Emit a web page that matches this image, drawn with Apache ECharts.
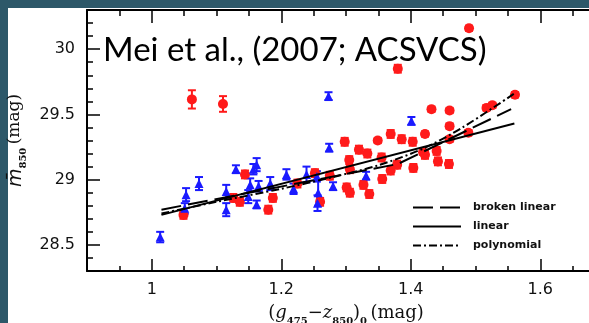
<!DOCTYPE html>
<html>
<head>
<meta charset="utf-8">
<script src="https://cdn.jsdelivr.net/npm/echarts@6/dist/echarts.min.js"></script>
<style>
  html, body { margin: 0; padding: 0; background: #2d5869; }
  #chart { width: 589px; height: 323px; }
</style>
</head>
<body>
<div id="chart"></div>
<script>
// red galaxies (x colour, y magnitude, error)
var redX = [1.062, 1.110, 1.490, 1.380, 1.561, 1.517, 1.526, 1.432, 1.460, 1.460, 1.422, 1.489, 1.460, 1.440, 1.419,
  1.298, 1.349, 1.369, 1.386, 1.403, 1.320, 1.333, 1.305, 1.355, 1.379, 1.369, 1.404, 1.422, 1.306, 1.356,
  1.327, 1.301, 1.306, 1.336, 1.275, 1.260, 1.049, 1.144, 1.126, 1.136, 1.187, 1.180, 1.442, 1.459, 1.252, 1.225];
var redY = [29.615, 29.58, 30.16, 29.85, 29.65, 29.55, 29.57, 29.54, 29.53, 29.41, 29.35, 29.36, 29.31, 29.22, 29.21,
  29.29, 29.30, 29.35, 29.31, 29.29, 29.23, 29.20, 29.15, 29.17, 29.115, 29.07, 29.09, 29.19, 29.08, 29.005,
  28.96, 28.94, 28.90, 28.89, 29.03, 28.83, 28.73, 29.04, 28.86, 28.83, 28.86, 28.77, 29.14, 29.12, 29.05, 28.97];
var redErr = [0.07, 0.06, 0.02, 0.03, 0.02, 0.02, 0.02, 0.02, 0.02, 0.02, 0.02, 0.02, 0.02, 0.03, 0.02,
  0.03, 0.02, 0.03, 0.03, 0.03, 0.03, 0.03, 0.03, 0.03, 0.03, 0.03, 0.03, 0.03, 0.03, 0.03,
  0.03, 0.03, 0.03, 0.03, 0.03, 0.03, 0.03, 0.03, 0.03, 0.03, 0.03, 0.03, 0.03, 0.03, 0.03, 0.03];

// blue galaxies
var blueX = [1.013, 1.053, 1.051, 1.073, 1.115, 1.115, 1.130, 1.162, 1.157, 1.152, 1.165, 1.149, 1.162, 1.183,
  1.208, 1.273, 1.274, 1.401, 1.331, 1.239, 1.255, 1.219, 1.257, 1.256, 1.280];
var blueY = [28.56, 28.885, 28.78, 28.97, 28.91, 28.77, 29.08, 29.115, 29.08, 28.96, 28.95, 28.87, 28.81, 28.97,
  29.04, 29.64, 29.245, 29.45, 29.03, 29.04, 29.025, 28.93, 28.90, 28.82, 28.95];
var blueErr = [0.04, 0.05, 0.04, 0.05, 0.05, 0.05, 0.03, 0.05, 0.04, 0.05, 0.04, 0.05, 0.03, 0.05,
  0.04, 0.03, 0.03, 0.03, 0.03, 0.06, 0.04, 0.04, 0.10, 0.06, 0.03];

// fits
var brokenFit = [[1.015, 28.77], [1.38, 29.12], [1.555, 29.54]];
var linearFit = [[1.015, 28.73], [1.56, 29.43]];
var polyFit = [[1.015, 28.74], [1.1, 28.83], [1.2, 28.93], [1.28, 29.02], [1.35, 29.11], [1.42, 29.24], [1.48, 29.40], [1.56, 29.66]];

var xMajor = [1, 1.2, 1.4, 1.6];
var yMajor = [28.5, 29, 29.5, 30];

function zip(xs, ys, es) {
  return xs.map(function (x, i) { return [x, ys[i], es[i]]; });
}

function errorBars(api) {
  var x = api.value(0), y = api.value(1), e = api.value(2);
  var top = api.coord([x, y + e]);
  var bot = api.coord([x, y - e]);
  var w = 4;
  var style = { stroke: api.visual('color'), lineWidth: 2 };
  return {
    type: 'group',
    children: [
      { type: 'line', shape: { x1: top[0], y1: top[1], x2: bot[0], y2: bot[1] }, style: style },
      { type: 'line', shape: { x1: top[0] - w, y1: top[1], x2: top[0] + w, y2: top[1] }, style: style },
      { type: 'line', shape: { x1: bot[0] - w, y1: bot[1], x2: bot[0] + w, y2: bot[1] }, style: style }
    ]
  };
}

var chart = echarts.init(document.getElementById('chart'));
var black = '#000';
var axisBase = { type: 'value', min: 0.9, max: 1.7, splitLine: { show: false } };
var yBase = { type: 'value', min: 28.3, max: 30.3, splitLine: { show: false } };

var serif = 'DejaVu Serif';
var mainTxt = { fontFamily: serif, fontSize: 18, color: '#111', verticalAlign: 'top', lineHeight: 20 };
var subTxt = { fontFamily: serif, fontWeight: 'bold', fontSize: 10, color: '#111', verticalAlign: 'top', lineHeight: 10, padding: [12, 0, 0, 0] };

chart.setOption({
  backgroundColor: '#2d5869',
  animation: false,
  grid: { left: 87, top: 10, width: 518, height: 261, outerBoundsMode: 'none', containLabel: false },
  graphic: [
    { type: 'rect', z: -10, shape: { x: 8, y: 8, width: 600, height: 330 }, style: { fill: '#fff' } },
    { type: 'text', z: 100, x: 103, y: 50, style: { text: 'Mei et al., (2007; ACSVCS)', font: '33px Lato', fill: '#000', verticalAlign: 'middle' } }
  ],
  legend: {
    orient: 'vertical', left: 412, top: 202, padding: 0, itemWidth: 48, itemHeight: 12, itemGap: 8,
    data: ['broken linear', 'linear', 'polynomial'],
    itemStyle: { opacity: 0 },
    textStyle: { fontFamily: 'DejaVu Sans', fontWeight: 'bold', fontSize: 11, color: '#111', padding: [0, 0, 0, 7] }
  },
  xAxis: [
    Object.assign({}, axisBase, {
      position: 'bottom', interval: 0.05,
      axisLine: { lineStyle: { color: black, width: 2 } },
      axisTick: { inside: true, length: 5, lineStyle: { color: black, width: 1.5 } },
      axisLabel: { customValues: xMajor, margin: 11, color: '#111', fontFamily: 'DejaVu Sans', fontSize: 16,
        formatter: function (v) { return String(Math.round(v * 10) / 10); } },
      name: '{t|(}{g|g}{s|475}{t|\u2212}{g|z}{s|850}{t|)}{s|0} {t|(mag)}',
      nameLocation: 'middle', nameGap: 33,
      nameTextStyle: {
        rich: {
          t: mainTxt,
          g: Object.assign({}, mainTxt, { fontStyle: 'italic' }),
          s: subTxt
        }
      }
    }),
    Object.assign({}, axisBase, {
      position: 'bottom', axisLine: { show: false }, axisLabel: { show: false },
      axisTick: { inside: true, length: 12, customValues: xMajor, lineStyle: { color: black, width: 1.5 } }
    }),
    Object.assign({}, axisBase, {
      position: 'top', interval: 0.05,
      axisLine: { lineStyle: { color: black, width: 2 } }, axisLabel: { show: false },
      axisTick: { inside: true, length: 6, lineStyle: { color: black, width: 1.5 } }
    }),
    Object.assign({}, axisBase, {
      position: 'top', axisLine: { show: false }, axisLabel: { show: false },
      axisTick: { inside: true, length: 13, customValues: xMajor, lineStyle: { color: black, width: 1.5 } }
    })
  ],
  yAxis: [
    Object.assign({}, yBase, {
      position: 'left', interval: 0.1,
      axisLine: { lineStyle: { color: black, width: 2 } },
      axisTick: { inside: true, length: 6, lineStyle: { color: black, width: 1.5 } },
      axisLabel: { customValues: yMajor, margin: 12, color: '#111', fontFamily: 'DejaVu Sans', fontSize: 16,
        formatter: function (v) { return String(Math.round(v * 10) / 10); } },
      name: '{m|m\u0304}{s|850} {t|(mag)}',
      nameLocation: 'middle', nameGap: 58, nameRotate: 90,
      nameTextStyle: {
        rich: {
          t: Object.assign({}, mainTxt, { fontSize: 17 }),
          m: Object.assign({}, mainTxt, { fontFamily: 'DejaVu Sans', fontStyle: 'italic', fontSize: 19 }),
          s: subTxt
        }
      }
    }),
    Object.assign({}, yBase, {
      position: 'left', axisLine: { show: false }, axisLabel: { show: false },
      axisTick: { inside: true, length: 13, customValues: yMajor, lineStyle: { color: black, width: 1.5 } }
    })
  ],
  series: [
    { name: 'red err', type: 'custom', renderItem: function (p, api) { return errorBars(api); },
      itemStyle: { color: '#ff1a1a' }, data: zip(redX, redY, redErr), z: 2 },
    { name: 'blue err', type: 'custom', renderItem: function (p, api) { return errorBars(api); },
      itemStyle: { color: '#1a1aff' }, data: zip(blueX, blueY, blueErr), z: 2 },
    { name: 'red', type: 'scatter', symbol: 'circle', symbolSize: 10,
      itemStyle: { color: '#ff1a1a', opacity: 1 }, data: zip(redX, redY, redErr), z: 3 },
    { name: 'blue', type: 'scatter', symbol: 'triangle', symbolSize: 9,
      itemStyle: { color: '#1a1aff', opacity: 1 }, data: zip(blueX, blueY, blueErr), z: 3 },
    { name: 'broken linear', type: 'line', data: brokenFit, symbol: 'none', z: 5, color: black,
      lineStyle: { color: black, width: 2, type: [20, 7] } },
    { name: 'linear', type: 'line', data: linearFit, symbol: 'none', z: 5, color: black,
      lineStyle: { color: black, width: 2, type: 'solid' } },
    { name: 'polynomial', type: 'line', data: polyFit, symbol: 'none', z: 5, smooth: 0.3, color: black,
      lineStyle: { color: black, width: 2, type: [8, 3, 2, 3] } }
  ]
});
</script>
</body>
</html>
